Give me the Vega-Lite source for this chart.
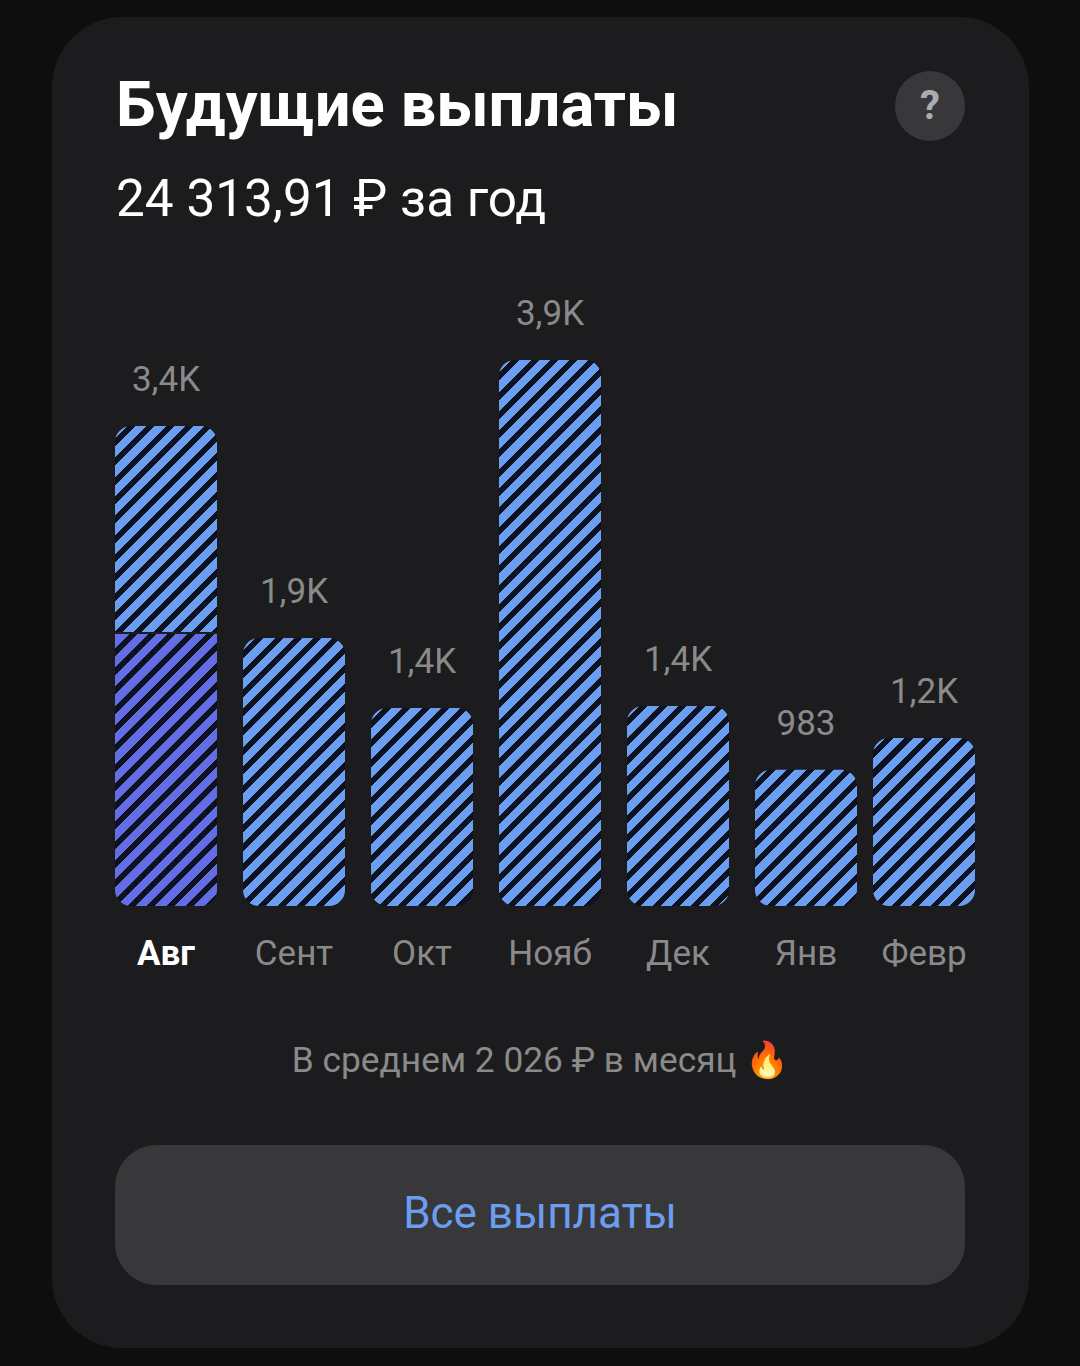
{"$schema":"https://vega.github.io/schema/vega-lite/v6.json","width":977,"height":1331,"autosize":{"type":"none"},"padding":{"left":52,"top":17,"right":51,"bottom":18},"background":"#0e0e0f","view":{"fill":"#1c1c1e","stroke":null,"cornerRadius":70},"config":{"font":"Roboto"},
"params":[
{"name":"hatch","value":[
{"offset":0,"color":"#6b9df0"},{"offset":0.01626,"color":"#6b9df0"},{"offset":0.01626,"color":"#0d1220"},{"offset":0.02778,"color":"#0d1220"},
{"offset":0.02778,"color":"#6b9df0"},{"offset":0.04404,"color":"#6b9df0"},{"offset":0.04404,"color":"#0d1220"},{"offset":0.05556,"color":"#0d1220"},
{"offset":0.05556,"color":"#6b9df0"},{"offset":0.07182,"color":"#6b9df0"},{"offset":0.07182,"color":"#0d1220"},{"offset":0.08333,"color":"#0d1220"},
{"offset":0.08333,"color":"#6b9df0"},{"offset":0.09959,"color":"#6b9df0"},{"offset":0.09959,"color":"#0d1220"},{"offset":0.11111,"color":"#0d1220"},
{"offset":0.11111,"color":"#6b9df0"},{"offset":0.12737,"color":"#6b9df0"},{"offset":0.12737,"color":"#0d1220"},{"offset":0.13889,"color":"#0d1220"},
{"offset":0.13889,"color":"#6b9df0"},{"offset":0.15515,"color":"#6b9df0"},{"offset":0.15515,"color":"#0d1220"},{"offset":0.16667,"color":"#0d1220"},
{"offset":0.16667,"color":"#6b9df0"},{"offset":0.18293,"color":"#6b9df0"},{"offset":0.18293,"color":"#0d1220"},{"offset":0.19444,"color":"#0d1220"},
{"offset":0.19444,"color":"#6b9df0"},{"offset":0.2107,"color":"#6b9df0"},{"offset":0.2107,"color":"#0d1220"},{"offset":0.22222,"color":"#0d1220"},
{"offset":0.22222,"color":"#6b9df0"},{"offset":0.23848,"color":"#6b9df0"},{"offset":0.23848,"color":"#0d1220"},{"offset":0.25,"color":"#0d1220"},
{"offset":0.25,"color":"#6b9df0"},{"offset":0.26626,"color":"#6b9df0"},{"offset":0.26626,"color":"#0d1220"},{"offset":0.27778,"color":"#0d1220"},
{"offset":0.27778,"color":"#6b9df0"},{"offset":0.29404,"color":"#6b9df0"},{"offset":0.29404,"color":"#0d1220"},{"offset":0.30556,"color":"#0d1220"},
{"offset":0.30556,"color":"#6b9df0"},{"offset":0.32182,"color":"#6b9df0"},{"offset":0.32182,"color":"#0d1220"},{"offset":0.33333,"color":"#0d1220"},
{"offset":0.33333,"color":"#6b9df0"},{"offset":0.34959,"color":"#6b9df0"},{"offset":0.34959,"color":"#0d1220"},{"offset":0.36111,"color":"#0d1220"},
{"offset":0.36111,"color":"#6b9df0"},{"offset":0.37737,"color":"#6b9df0"},{"offset":0.37737,"color":"#0d1220"},{"offset":0.38889,"color":"#0d1220"},
{"offset":0.38889,"color":"#6b9df0"},{"offset":0.40515,"color":"#6b9df0"},{"offset":0.40515,"color":"#0d1220"},{"offset":0.41667,"color":"#0d1220"},
{"offset":0.41667,"color":"#6b9df0"},{"offset":0.43293,"color":"#6b9df0"},{"offset":0.43293,"color":"#0d1220"},{"offset":0.44444,"color":"#0d1220"},
{"offset":0.44444,"color":"#6b9df0"},{"offset":0.4607,"color":"#6b9df0"},{"offset":0.4607,"color":"#0d1220"},{"offset":0.47222,"color":"#0d1220"},
{"offset":0.47222,"color":"#6b9df0"},{"offset":0.48848,"color":"#6b9df0"},{"offset":0.48848,"color":"#0d1220"},{"offset":0.5,"color":"#0d1220"},
{"offset":0.5,"color":"#6b9df0"},{"offset":0.51626,"color":"#6b9df0"},{"offset":0.51626,"color":"#0d1220"},{"offset":0.52778,"color":"#0d1220"},
{"offset":0.52778,"color":"#6b9df0"},{"offset":0.54404,"color":"#6b9df0"},{"offset":0.54404,"color":"#0d1220"},{"offset":0.55556,"color":"#0d1220"},
{"offset":0.55556,"color":"#6b9df0"},{"offset":0.57182,"color":"#6b9df0"},{"offset":0.57182,"color":"#0d1220"},{"offset":0.58333,"color":"#0d1220"},
{"offset":0.58333,"color":"#6b9df0"},{"offset":0.59959,"color":"#6b9df0"},{"offset":0.59959,"color":"#0d1220"},{"offset":0.61111,"color":"#0d1220"},
{"offset":0.61111,"color":"#6b9df0"},{"offset":0.62737,"color":"#6b9df0"},{"offset":0.62737,"color":"#0d1220"},{"offset":0.63889,"color":"#0d1220"},
{"offset":0.63889,"color":"#6b9df0"},{"offset":0.65515,"color":"#6b9df0"},{"offset":0.65515,"color":"#0d1220"},{"offset":0.66667,"color":"#0d1220"},
{"offset":0.66667,"color":"#6b9df0"},{"offset":0.68293,"color":"#6b9df0"},{"offset":0.68293,"color":"#0d1220"},{"offset":0.69444,"color":"#0d1220"},
{"offset":0.69444,"color":"#6b9df0"},{"offset":0.7107,"color":"#6b9df0"},{"offset":0.7107,"color":"#0d1220"},{"offset":0.72222,"color":"#0d1220"},
{"offset":0.72222,"color":"#6b9df0"},{"offset":0.73848,"color":"#6b9df0"},{"offset":0.73848,"color":"#0d1220"},{"offset":0.75,"color":"#0d1220"},
{"offset":0.75,"color":"#6b9df0"},{"offset":0.76626,"color":"#6b9df0"},{"offset":0.76626,"color":"#0d1220"},{"offset":0.77778,"color":"#0d1220"},
{"offset":0.77778,"color":"#6b9df0"},{"offset":0.79404,"color":"#6b9df0"},{"offset":0.79404,"color":"#0d1220"},{"offset":0.80556,"color":"#0d1220"},
{"offset":0.80556,"color":"#6b9df0"},{"offset":0.82182,"color":"#6b9df0"},{"offset":0.82182,"color":"#0d1220"},{"offset":0.83333,"color":"#0d1220"},
{"offset":0.83333,"color":"#6b9df0"},{"offset":0.84959,"color":"#6b9df0"},{"offset":0.84959,"color":"#0d1220"},{"offset":0.86111,"color":"#0d1220"},
{"offset":0.86111,"color":"#6b9df0"},{"offset":0.87737,"color":"#6b9df0"},{"offset":0.87737,"color":"#0d1220"},{"offset":0.88889,"color":"#0d1220"},
{"offset":0.88889,"color":"#6b9df0"},{"offset":0.90515,"color":"#6b9df0"},{"offset":0.90515,"color":"#0d1220"},{"offset":0.91667,"color":"#0d1220"},
{"offset":0.91667,"color":"#6b9df0"},{"offset":0.93293,"color":"#6b9df0"},{"offset":0.93293,"color":"#0d1220"},{"offset":0.94444,"color":"#0d1220"},
{"offset":0.94444,"color":"#6b9df0"},{"offset":0.9607,"color":"#6b9df0"},{"offset":0.9607,"color":"#0d1220"},{"offset":0.97222,"color":"#0d1220"},
{"offset":0.97222,"color":"#6b9df0"},{"offset":0.98848,"color":"#6b9df0"},{"offset":0.98848,"color":"#0d1220"},{"offset":1,"color":"#0d1220"}]},
{"name":"hatchPaid","value":[
{"offset":0,"color":"#626de6"},{"offset":0.02927,"color":"#626de6"},{"offset":0.02927,"color":"#0d1220"},{"offset":0.05,"color":"#0d1220"},
{"offset":0.05,"color":"#626de6"},{"offset":0.07927,"color":"#626de6"},{"offset":0.07927,"color":"#0d1220"},{"offset":0.1,"color":"#0d1220"},
{"offset":0.1,"color":"#626de6"},{"offset":0.12927,"color":"#626de6"},{"offset":0.12927,"color":"#0d1220"},{"offset":0.15,"color":"#0d1220"},
{"offset":0.15,"color":"#626de6"},{"offset":0.17927,"color":"#626de6"},{"offset":0.17927,"color":"#0d1220"},{"offset":0.2,"color":"#0d1220"},
{"offset":0.2,"color":"#626de6"},{"offset":0.22927,"color":"#626de6"},{"offset":0.22927,"color":"#0d1220"},{"offset":0.25,"color":"#0d1220"},
{"offset":0.25,"color":"#626de6"},{"offset":0.27927,"color":"#626de6"},{"offset":0.27927,"color":"#0d1220"},{"offset":0.3,"color":"#0d1220"},
{"offset":0.3,"color":"#626de6"},{"offset":0.32927,"color":"#626de6"},{"offset":0.32927,"color":"#0d1220"},{"offset":0.35,"color":"#0d1220"},
{"offset":0.35,"color":"#626de6"},{"offset":0.37927,"color":"#626de6"},{"offset":0.37927,"color":"#0d1220"},{"offset":0.4,"color":"#0d1220"},
{"offset":0.4,"color":"#626de6"},{"offset":0.42927,"color":"#626de6"},{"offset":0.42927,"color":"#0d1220"},{"offset":0.45,"color":"#0d1220"},
{"offset":0.45,"color":"#626de6"},{"offset":0.47927,"color":"#626de6"},{"offset":0.47927,"color":"#0d1220"},{"offset":0.5,"color":"#0d1220"},
{"offset":0.5,"color":"#626de6"},{"offset":0.52927,"color":"#626de6"},{"offset":0.52927,"color":"#0d1220"},{"offset":0.55,"color":"#0d1220"},
{"offset":0.55,"color":"#626de6"},{"offset":0.57927,"color":"#626de6"},{"offset":0.57927,"color":"#0d1220"},{"offset":0.6,"color":"#0d1220"},
{"offset":0.6,"color":"#626de6"},{"offset":0.62927,"color":"#626de6"},{"offset":0.62927,"color":"#0d1220"},{"offset":0.65,"color":"#0d1220"},
{"offset":0.65,"color":"#626de6"},{"offset":0.67927,"color":"#626de6"},{"offset":0.67927,"color":"#0d1220"},{"offset":0.7,"color":"#0d1220"},
{"offset":0.7,"color":"#626de6"},{"offset":0.72927,"color":"#626de6"},{"offset":0.72927,"color":"#0d1220"},{"offset":0.75,"color":"#0d1220"},
{"offset":0.75,"color":"#626de6"},{"offset":0.77927,"color":"#626de6"},{"offset":0.77927,"color":"#0d1220"},{"offset":0.8,"color":"#0d1220"},
{"offset":0.8,"color":"#626de6"},{"offset":0.82927,"color":"#626de6"},{"offset":0.82927,"color":"#0d1220"},{"offset":0.85,"color":"#0d1220"},
{"offset":0.85,"color":"#626de6"},{"offset":0.87927,"color":"#626de6"},{"offset":0.87927,"color":"#0d1220"},{"offset":0.9,"color":"#0d1220"},
{"offset":0.9,"color":"#626de6"},{"offset":0.92927,"color":"#626de6"},{"offset":0.92927,"color":"#0d1220"},{"offset":0.95,"color":"#0d1220"},
{"offset":0.95,"color":"#626de6"},{"offset":0.97927,"color":"#626de6"},{"offset":0.97927,"color":"#0d1220"},{"offset":1,"color":"#0d1220"}]}
],
"title":{"text":"Будущие выплаты","subtitle":"24 313,91 ₽ за год","anchor":"start","frame":"group","baseline":"alphabetic","dx":64,"offset":-260,"font":"Roboto","fontSize":63.3,"fontWeight":"bold","color":"#ffffff","subtitleFont":"Roboto","subtitleFontSize":51.3,"subtitleFontWeight":"normal","subtitleColor":"#ffffff","subtitlePadding":26},
"data":{"values":[
{"month":"Авг","part":"выплачено","low":0,"high":1964,"label":""},
{"month":"Авг","part":"ожидается","low":1978,"high":3466,"label":"3,4K"},
{"month":"Сент","part":"ожидается","low":0,"high":1935,"label":"1,9K"},
{"month":"Окт","part":"ожидается","low":0,"high":1430,"label":"1,4K"},
{"month":"Нояб","part":"ожидается","low":0,"high":3942,"label":"3,9K"},
{"month":"Дек","part":"ожидается","low":0,"high":1444,"label":"1,4K"},
{"month":"Янв","part":"ожидается","low":0,"high":983,"label":"983"},
{"month":"Февр","part":"ожидается","low":0,"high":1213,"label":"1,2K"}]},
"encoding":{
"x":{"field":"month","type":"nominal","sort":["Авг","Сент","Окт","Нояб","Дек","Янв","Февр"],"scale":{"type":"band","range":[50,946],"paddingInner":0.203125,"paddingOuter":0.1015625},"axis":{"title":"В среднем 2 026 ₽ в месяц 🔥","orient":"bottom","offset":-442,"ticks":false,"domain":false,"labelAngle":0,"labelFont":"Roboto","labelFontSize":35,"labelBaseline":"middle","labelPadding":47,"labelColor":{"condition":{"test":"datum.value==='Авг'","value":"#ffffff"},"value":"#8a8a8a"},"labelFontWeight":{"condition":{"test":"datum.value==='Авг'","value":"bold"},"value":"normal"},"labelOffset":{"condition":{"test":"datum.value==='Февр'","value":-10},"value":0},"titleFont":"Roboto","titleFontSize":35.3,"titleFontWeight":"normal","titleColor":"#8a8a8a","titleBaseline":"middle","titleX":488,"titleY":154,"titleAnchor":"middle"}},
"y":{"field":"high","type":"quantitative","scale":{"domain":[0,4000],"range":[889,335]},"axis":null}},
"layer":[
{"transform":[{"filter":"datum.month!=='Авг'"}],"mark":{"type":"bar","width":102,"cornerRadius":16,"xOffset":{"expr":"datum.month==='Февр'?-10:0"}},"encoding":{"y2":{"field":"low"},"fill":{"value":{"expr":"{gradient:'linear',x1:1.4/(102+(datum.high-datum.low)*0.1385),y1:1.4/(102+(datum.high-datum.low)*0.1385),x2:1.4/(102+(datum.high-datum.low)*0.1385)+694.8*102/(10404+pow((datum.high-datum.low)*0.1385,2)),y2:1.4/(102+(datum.high-datum.low)*0.1385)+694.8*(datum.high-datum.low)*0.1385/(10404+pow((datum.high-datum.low)*0.1385,2)),stops:hatch}"}}}},
{"transform":[{"filter":"datum.month==='Авг'&&datum.part==='ожидается'"}],"mark":{"type":"bar","width":102,"cornerRadiusTopLeft":16,"cornerRadiusTopRight":16},"encoding":{"y2":{"field":"low"},"fill":{"value":{"expr":"{gradient:'linear',x1:1.4/(102+(datum.high-datum.low)*0.1385),y1:1.4/(102+(datum.high-datum.low)*0.1385),x2:1.4/(102+(datum.high-datum.low)*0.1385)+694.8*102/(10404+pow((datum.high-datum.low)*0.1385,2)),y2:1.4/(102+(datum.high-datum.low)*0.1385)+694.8*(datum.high-datum.low)*0.1385/(10404+pow((datum.high-datum.low)*0.1385,2)),stops:hatch}"}}}},
{"transform":[{"filter":"datum.part==='выплачено'"}],"mark":{"type":"bar","width":102,"cornerRadiusBottomLeft":16,"cornerRadiusBottomRight":16},"encoding":{"y2":{"field":"low"},"fill":{"value":{"expr":"{gradient:'linear',x1:3/(102+(datum.high-datum.low)*0.1385),y1:3/(102+(datum.high-datum.low)*0.1385),x2:3/(102+(datum.high-datum.low)*0.1385)+386*102/(10404+pow((datum.high-datum.low)*0.1385,2)),y2:3/(102+(datum.high-datum.low)*0.1385)+386*(datum.high-datum.low)*0.1385/(10404+pow((datum.high-datum.low)*0.1385,2)),stops:hatchPaid}"}}}},
{"transform":[{"filter":"datum.label!==''"}],"mark":{"type":"text","font":"Roboto","fontSize":35,"color":"#8a8a8a","baseline":"alphabetic","dy":-35,"xOffset":{"expr":"datum.month==='Февр'?-10:0"}},"encoding":{"text":{"field":"label"}}},
{"data":{"values":[{"text":"?"}]},"mark":{"type":"point","filled":true,"size":4900,"shape":"circle","fill":"#38383a","opacity":1},"encoding":{"x":{"value":878},"y":{"value":89}}},
{"data":{"values":[{"text":"?"}]},"mark":{"type":"text","font":"Roboto","fontSize":40,"fontWeight":"bold","color":"#a9adb3","baseline":"middle"},"encoding":{"x":{"value":878},"y":{"value":90},"text":{"field":"text"}}},
{"data":{"values":[{"text":"Все выплаты"}]},"mark":{"type":"rect","fill":"#38383a","cornerRadius":42},"encoding":{"x":{"value":63},"x2":{"value":913},"y":{"value":1128},"y2":{"value":1268}}},
{"data":{"values":[{"text":"Все выплаты"}]},"mark":{"type":"text","font":"Roboto","fontSize":44,"color":"#6b9df0","baseline":"middle"},"encoding":{"x":{"value":488},"y":{"value":1198},"text":{"field":"text"}}}
]}
